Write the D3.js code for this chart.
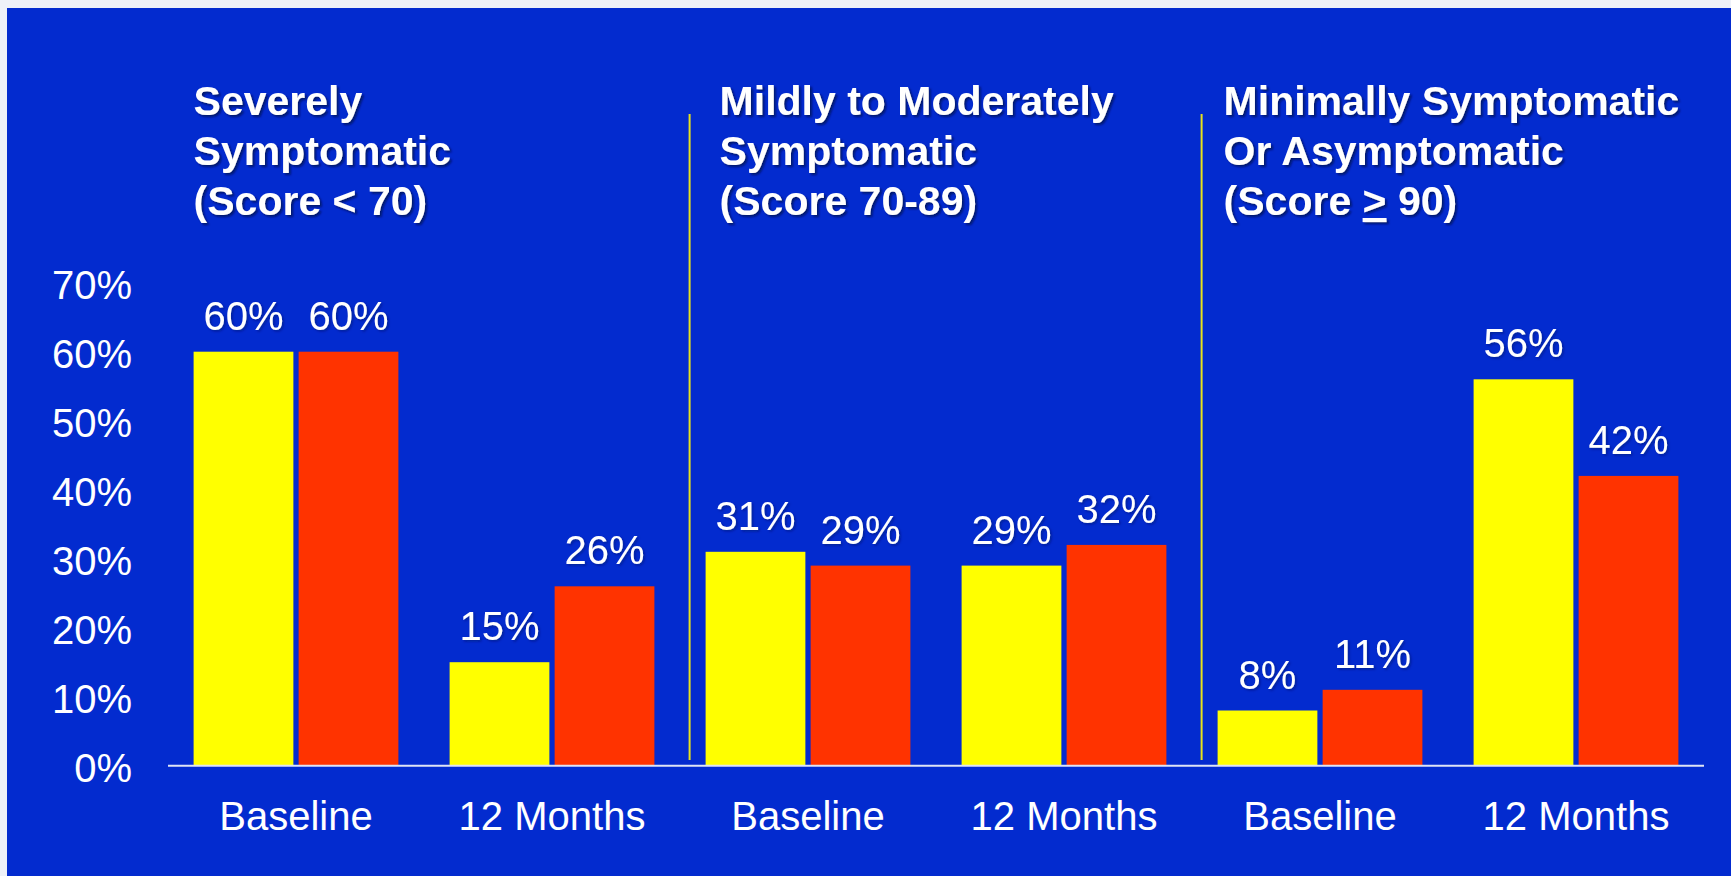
<!DOCTYPE html>
<html>
<head>
<meta charset="utf-8">
<script src="https://cdn.jsdelivr.net/npm/d3@7"></script>
<style>
  html, body { margin: 0; padding: 0; background: #eef1f8; }
  svg { display: block; }
  text { font-family: "Liberation Sans", Arial, sans-serif; fill: #ffffff; }
</style>
</head>
<body>
<svg id="chart" width="1731" height="876"></svg>
<script>
// Outcome-score categories, two time points each
const groupTitles = [
  ["Severely", "Symptomatic", "(Score < 70)"],
  ["Mildly to Moderately", "Symptomatic", "(Score 70-89)"],
  ["Minimally Symptomatic", "Or Asymptomatic", "(Score \u2265 90)"]
];
const timepoints = ["Baseline", "12 Months"];
const categories = ["Baseline", "12 Months", "Baseline", "12 Months", "Baseline", "12 Months"];
const seriesNames = ["Series 1", "Series 2"];
const series1Values = [60, 15, 31, 29, 8, 56];
const series2Values = [60, 26, 29, 32, 11, 42];
const yTicks = [0, 10, 20, 30, 40, 50, 60, 70];
const yMax = 70;

const colors = { "Series 1": "#ffff00", "Series 2": "#ff3300" };

const W = 1731, H = 876;
const svg = d3.select("#chart");

// drop shadow for the headings and value labels
const defs = svg.append("defs");
const shadow = defs.append("filter").attr("id", "shadow")
  .attr("x", "-5%").attr("y", "-20%").attr("width", "115%").attr("height", "150%");
shadow.append("feDropShadow").attr("dx", 2).attr("dy", 2).attr("stdDeviation", 0.9)
  .attr("flood-color", "#000a50").attr("flood-opacity", 0.75);
const softShadow = defs.append("filter").attr("id", "softShadow")
  .attr("x", "-5%").attr("y", "-20%").attr("width", "115%").attr("height", "150%");
softShadow.append("feDropShadow").attr("dx", 1.5).attr("dy", 1.5).attr("stdDeviation", 0.8)
  .attr("flood-color", "#001060").attr("flood-opacity", 0.5);

// blue panel
svg.append("rect").attr("x", 7).attr("y", 8).attr("width", W - 7).attr("height", H - 8)
  .attr("fill", "#032bcf");

const plot = { left: 168, right: 1704, top: 282.7, bottom: 765.7 };

const idx = d3.range(categories.length);
const x = d3.scaleBand().domain(idx).range([plot.left, plot.right])
  .paddingInner(0.2).paddingOuter(0.1);
const xs = d3.scaleBand().domain(seriesNames).range([0, x.bandwidth()]).paddingInner(0.05);
const y = d3.scaleLinear().domain([0, yMax]).range([plot.bottom, plot.top]);

const rows = idx.map(i => ({
  i,
  cat: categories[i],
  vals: [
    { key: seriesNames[0], v: series1Values[i] },
    { key: seriesNames[1], v: series2Values[i] }
  ]
}));

// bars
const groups = svg.append("g").selectAll("g").data(rows).join("g")
  .attr("transform", d => `translate(${x(d.i)},0)`);

groups.selectAll("rect").data(d => d.vals).join("rect")
  .attr("x", d => xs(d.key))
  .attr("width", xs.bandwidth())
  .attr("y", d => y(d.v))
  .attr("height", d => y(0) - y(d.v))
  .attr("fill", d => colors[d.key]);

// value labels
groups.selectAll("text").data(d => d.vals).join("text")
  .attr("x", d => xs(d.key) + xs.bandwidth() / 2)
  .attr("y", d => y(d.v) - 22)
  .attr("text-anchor", "middle")
  .attr("font-size", 40)
  .attr("filter", "url(#softShadow)")
  .text(d => d.v + "%");

// baseline
svg.append("line")
  .attr("x1", plot.left).attr("x2", plot.right)
  .attr("y1", y(0)).attr("y2", y(0))
  .attr("stroke", "#dfe5f5").attr("stroke-width", 2);

// y axis labels (no line, no ticks)
const yAxis = d3.axisLeft(y).tickValues(yTicks).tickFormat(d => d + "%").tickSize(0).tickPadding(0);
const gy = svg.append("g").attr("transform", "translate(132,0)").call(yAxis);
gy.select(".domain").remove();
gy.selectAll("text")
  .attr("font-size", 40)
  .attr("font-family", "Liberation Sans, Arial, sans-serif")
  .attr("fill", "#ffffff")
  .attr("dy", "0.4em");

// category labels
const xAxis = d3.axisBottom(x).tickFormat(i => categories[i]).tickSize(0).tickPadding(0);
const gx = svg.append("g").attr("transform", "translate(0,830)").call(xAxis);
gx.select(".domain").remove();
gx.selectAll("text")
  .attr("font-size", 40)
  .attr("font-family", "Liberation Sans, Arial, sans-serif")
  .attr("fill", "#ffffff")
  .attr("dy", 0);

// vertical separators between score categories
const perGroup = timepoints.length;
for (let g = 1; g < groupTitles.length; g++) {
  const sx = x(g * perGroup) - 16;
  svg.append("line")
    .attr("x1", sx).attr("x2", sx)
    .attr("y1", 114).attr("y2", 760)
    .attr("stroke", "#e8e21a").attr("stroke-width", 2);
}

// group headings
const titleNudge = [0, 14, 6];
groupTitles.forEach((lines, g) => {
  const tx = x(g * perGroup) + titleNudge[g];
  const t = svg.append("text")
    .attr("x", tx).attr("y", 115)
    .attr("font-size", 41).attr("font-weight", "bold")
    .attr("filter", "url(#shadow)");
  lines.forEach((line, k) => {
    const ts = t.append("tspan").attr("x", tx).attr("y", 115 + k * 50);
    if (line.includes("\u2265")) {
      const [a, b] = line.split("\u2265");
      ts.append("tspan").text(a);
      ts.append("tspan").attr("text-decoration", "underline").text(">");
      ts.append("tspan").text(b);
    } else {
      ts.text(line);
    }
  });
});
</script>
</body>
</html>
